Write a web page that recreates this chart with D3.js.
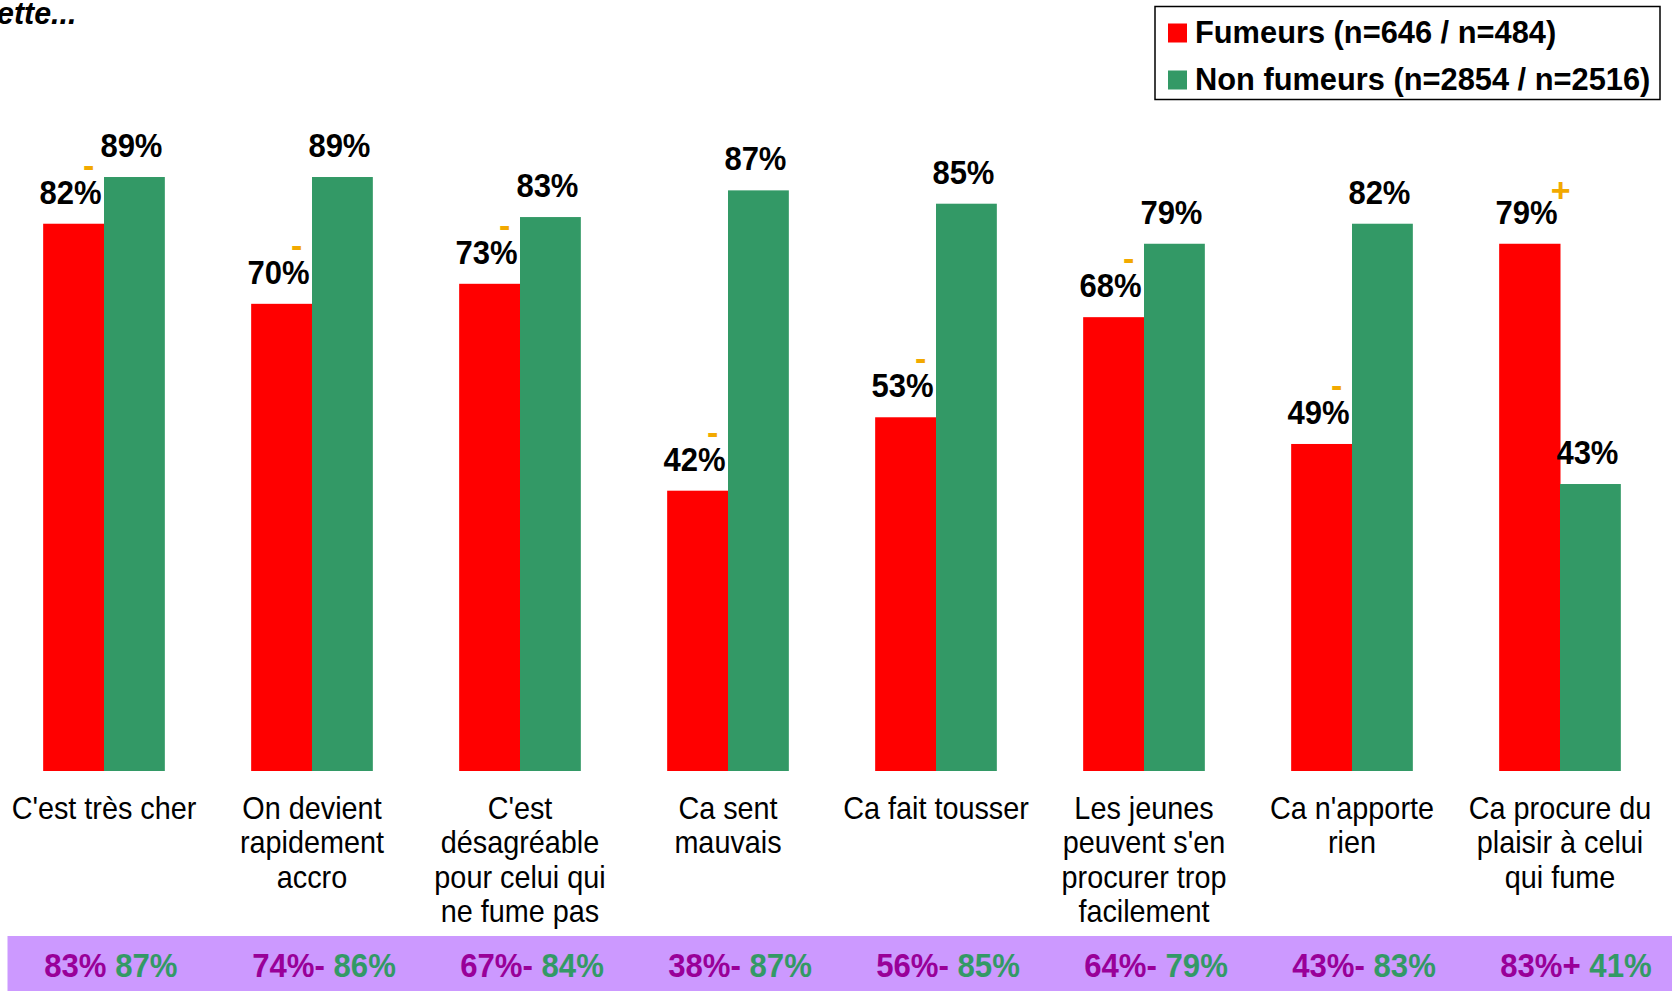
<!DOCTYPE html>
<html>
<head>
<meta charset="utf-8">
<script src="https://cdn.jsdelivr.net/npm/d3@7"></script>
<style>
  html, body { margin: 0; padding: 0; background: #fff; overflow: hidden; }
  svg { display: block; font-family: "Liberation Sans", Arial, sans-serif; }
</style>
</head>
<body>
<svg id="chart" width="1672" height="991"></svg>
<script>
// ---- data ----
const categories = [
  ["C'est très cher"],
  ["On devient", "rapidement", "accro"],
  ["C'est", "désagréable", "pour celui qui", "ne fume pas"],
  ["Ca sent", "mauvais"],
  ["Ca fait tousser"],
  ["Les jeunes", "peuvent s'en", "procurer trop", "facilement"],
  ["Ca n'apporte", "rien"],
  ["Ca procure du", "plaisir à celui", "qui fume"]
];
const fumeurs    = [82, 70, 73, 42, 53, 68, 49, 79];
const nonFumeurs = [89, 89, 83, 87, 85, 79, 82, 43];
const signes     = ["-", "-", "-", "-", "-", "-", "-", "+"];
const prevFumeurs    = [83, 74, 67, 38, 56, 64, 43, 83];
const prevSignes     = ["", "-", "-", "-", "-", "-", "-", "+"];
const prevNonFumeurs = [87, 86, 84, 87, 85, 79, 83, 41];
const seriesNames = ["Fumeurs (n=646 / n=484)", "Non fumeurs (n=2854 / n=2516)"];
const titleFragment = "ette...";

// ---- styles ----
const RED = "#FF0000", GREEN = "#339966", PURPLE_BG = "#CC99FF", PURPLE = "#990099", ORANGE = "#F2A900";

const svg = d3.select("#chart");
const idx = d3.range(categories.length);

const x = d3.scaleBand().domain(idx).range([0, 1664]).paddingInner(0.415).paddingOuter(0.2075);
const xs = d3.scaleBand().domain([0, 1]).range([0, x.bandwidth()]);
const y = d3.scaleLinear().domain([0, 100]).range([771, 103.6]);

// title fragment
svg.append("text").attr("transform", "translate(-3,24) scale(0.95,1)")
  .attr("font-size", 32).attr("font-weight", "bold").attr("font-style", "italic")
  .attr("fill", "#000").text(titleFragment);

// bars
const g = svg.append("g");
const series = [fumeurs, nonFumeurs];
const colors = [RED, GREEN];
series.forEach((vals, s) => {
  g.selectAll(".bar" + s).data(idx).join("rect")
    .attr("x", i => x(i) + xs(s))
    .attr("y", i => y(vals[i]))
    .attr("width", xs.bandwidth() + (s === 0 ? 0.5 : 0))
    .attr("height", i => y(0) - y(vals[i]))
    .attr("fill", colors[s]);
  g.selectAll(".lab" + s).data(idx).join("text")
    .attr("transform", i => `translate(${x(i) + xs(s) + xs.bandwidth() / 2 - 3},${y(vals[i]) - 20}) scale(0.94,1)`)
    .attr("text-anchor", "middle")
    .attr("font-size", 33).attr("font-weight", "bold").attr("fill", "#000")
    .text(i => vals[i] + "%");
});

// significance markers
g.selectAll(".sig").data(idx).join("text")
  .attr("x", i => x(i) + xs(0) + xs.bandwidth() / 2 + (signes[i] === "+" ? 31 : 15))
  .attr("y", i => y(fumeurs[i]) - 20 - (signes[i] === "+" ? 22 : 27))
  .attr("text-anchor", "middle")
  .attr("font-size", 34).attr("font-weight", "bold").attr("fill", ORANGE)
  .text(i => signes[i]);

// category labels
const cat = svg.append("g");
idx.forEach(i => {
  const t = cat.append("text")
    .attr("transform", `translate(${x(i) + x.bandwidth() / 2},819) scale(0.9,1)`)
    .attr("text-anchor", "middle")
    .attr("font-size", 32).attr("fill", "#000");
  categories[i].forEach((line, k) => {
    t.append("tspan").attr("x", 0).attr("dy", k === 0 ? 0 : 34.5).text(line);
  });
});

// bottom band
svg.append("rect").attr("x", 7.5).attr("y", 936).attr("width", 1672 - 7.5).attr("height", 55).attr("fill", PURPLE_BG);
const band = svg.append("g");
idx.forEach(i => {
  const t = band.append("text")
    .attr("transform", `translate(${x(i) + 1},977) scale(0.93,1)`)
    .attr("font-size", 33.5).attr("font-weight", "bold");
  t.append("tspan").attr("fill", PURPLE).text(prevFumeurs[i] + "%" + prevSignes[i] + " ");
  t.append("tspan").attr("fill", GREEN).text(prevNonFumeurs[i] + "%");
});

// legend
const lg = svg.append("g");
lg.append("rect").attr("x", 1155).attr("y", 6.5).attr("width", 505).attr("height", 93)
  .attr("fill", "#fff").attr("stroke", "#000").attr("stroke-width", 1.5);
seriesNames.forEach((name, s) => {
  lg.append("rect").attr("x", 1168).attr("y", 23.5 + s * 47).attr("width", 19).attr("height", 19).attr("fill", colors[s]);
  lg.append("text").attr("x", 1195).attr("y", 42.7 + s * 47)
    .attr("font-size", 30.8).attr("font-weight", "bold").attr("fill", "#000").text(name);
});
</script>
</body>
</html>
